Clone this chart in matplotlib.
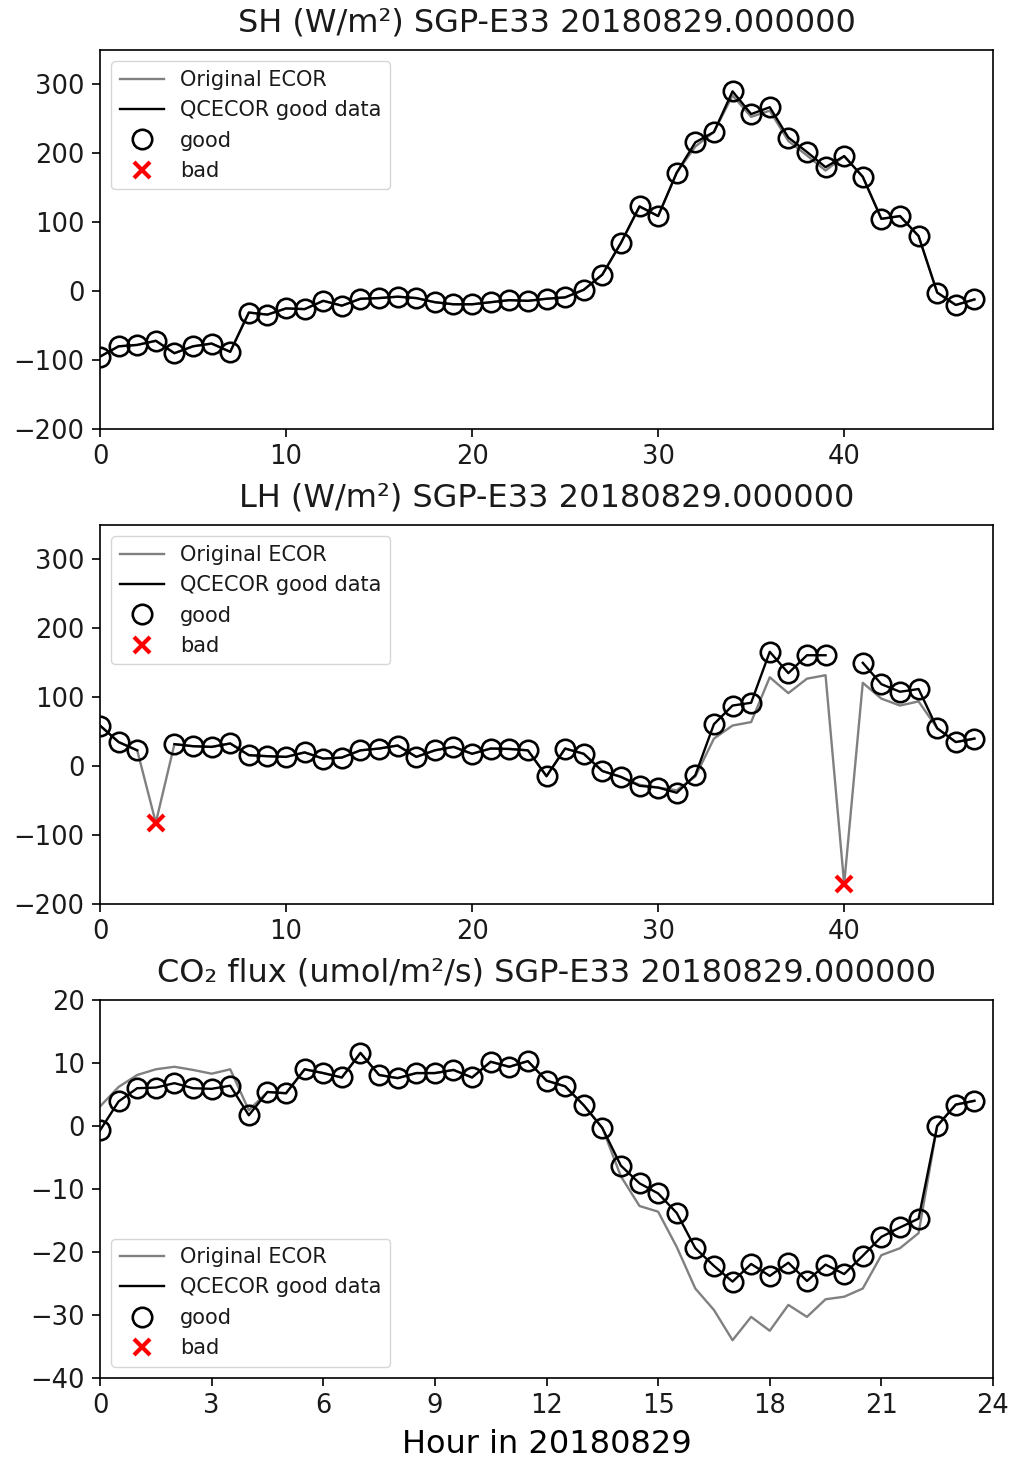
import numpy as np
import matplotlib
matplotlib.use("Agg")
import matplotlib.pyplot as plt

nan = np.nan

# ---------------- data ----------------
sh_qc = [-95, -80, -78, -72, -90, -80, -76, -88, -31, -34, -25, -26, -14, -21, -11, -10,
         -8, -10, -16, -19, -19, -16, -13, -14, -11, -9, 2, 24, 70, 123, 109, 172,
         216, 231, 290, 257, 267, 223, 202, 180, 196, 166, 105, 109, 80, -2, -20, -12]
sh_orig = [-95, -80, -78, -72, -90, -80, -76, -88, -31, -34, -25, -26, -14, -21, -11, -10,
           -8, -10, -16, -19, -19, -16, -13, -14, -11, -9, 2, 24, 70, 123, 109, 172,
           210, 231, 284, 253, 262, 218, 197, 175, 196, 166, 105, 109, 80, -2, -20, -12]
sh_bad_idx = []

lh_qc = [59, 35, 23, nan, 32, 29, 28, 33, 16, 14.5, 13.5, 20, 11, 12.5, 23, 25.6,
         30, 13.5, 23, 28, 18, 25.6, 25, 23, -14.5, 25.6, 18, -7, -15.5, -28.5, -31, -38.6,
         -13, 61, 88, 92, 166, 135, 161, 161, nan, 150, 119, 108, 112, 55, 35, 40]
lh_orig = [59, 35, 23, -82, 32, 29, 28, 33, 16, 14.5, 13.5, 20, 11, 12.5, 23, 25.6,
           30, 13.5, 23, 28, 18, 25.6, 25, 23, -14.5, 25.6, 18, -7, -15.5, -27, -31, -35,
           -15, 40, 59, 64, 129, 106, 127, 132, -171, 121, 98, 88, 94, 55, 35, 40]
lh_bad_idx = [3, 40]

co2_qc = [-0.7, 3.9, 6.0, 6.1, 6.8, 6.0, 5.9, 6.4, 1.7, 5.4, 5.2, 9.0, 8.4, 7.7, 11.6, 8.1,
          7.6, 8.4, 8.4, 8.9, 7.7, 10.2, 9.4, 10.3, 7.2, 6.3, 3.3, -0.3, -6.3, -9.1, -10.7, -13.8,
          -19.4, -22.2, -24.7, -21.9, -23.8, -21.7, -24.6, -22.0, -23.5, -20.6, -17.6, -16.1, -14.7, 0.0, 3.4, 4.0]
co2_orig = [3.1, 6.2, 8.1, 9.0, 9.4, 8.9, 8.3, 9.0, 2.5, 5.4, 5.2, 9.0, 8.4, 7.7, 11.6, 8.1,
            7.6, 8.4, 8.4, 8.9, 7.7, 10.2, 9.4, 10.3, 7.2, 6.3, 3.3, -0.3, -8.0, -12.7, -13.6, -19.2,
            -25.8, -29.2, -34.0, -30.3, -32.5, -28.4, -30.3, -27.5, -27.1, -25.8, -20.5, -19.4, -17.0, 0.0, 3.4, 4.0]
co2_bad_idx = []

titles = ["SH (W/m\u00b2) SGP-E33 20180829.000000",
          "LH (W/m\u00b2) SGP-E33 20180829.000000",
          "CO\u2082 flux (umol/m\u00b2/s) SGP-E33 20180829.000000"]
xlabel = "Hour in 20180829"
idx_ticks = [0, 10, 20, 30, 40]
hour_ticks = [0, 3, 6, 9, 12, 15, 18, 21, 24]
flux_yticks = [-200, -100, 0, 100, 200, 300]
co2_yticks = [-40, -30, -20, -10, 0, 10, 20]

# ---------------- figure ----------------
plt.rcParams['font.family'] = ['DejaVu Sans']
plt.rcParams['text.color'] = '#1a1a1a'
plt.rcParams['xtick.labelcolor'] = '#1a1a1a'
plt.rcParams['ytick.labelcolor'] = '#1a1a1a'
fig = plt.figure(figsize=(10.13, 14.62), dpi=100)

left, width = 100 / 1013, 893 / 1013
boxes = [(50, 429), (525, 904), (1000, 1378)]
axes = []
for top, bot in boxes:
    ax = fig.add_axes([left, 1 - bot / 1462, width, (bot - top) / 1462])
    axes.append(ax)

n = 48
idx = np.arange(n)
hours = idx * 0.5

panels = [
    (axes[0], idx, sh_orig, sh_qc, sh_bad_idx, (-200, 350), flux_yticks, (0, 48), idx_ticks, 'upper left'),
    (axes[1], idx, lh_orig, lh_qc, lh_bad_idx, (-200, 350), flux_yticks, (0, 48), idx_ticks, 'upper left'),
    (axes[2], hours, co2_orig, co2_qc, co2_bad_idx, (-40, 20), co2_yticks, (0, 24), hour_ticks, 'lower left'),
]

for i, (ax, x, orig, qc, bad, ylim, yt, xlim, xt, loc) in enumerate(panels):
    orig = np.array(orig, dtype=float)
    qc = np.array(qc, dtype=float)
    ax.plot(x, orig, color='gray', lw=1.7, label='Original ECOR', zorder=2)
    ax.plot(x, qc, color='black', lw=1.7, label='QCECOR good data', zorder=3)
    ax.plot(x, qc, linestyle='none', marker='o', ms=14, mfc='none', mec='black',
            mew=1.9, label='good', zorder=4)
    bx = x[bad] if len(bad) else []
    by = orig[bad] if len(bad) else []
    ax.plot(bx, by, linestyle='none', marker='x', ms=12, mec='red', mew=3,
            label='bad', zorder=5)
    ax.set_xlim(*xlim)
    ax.set_ylim(*ylim)
    ax.set_xticks(xt)
    ax.set_yticks(yt)
    ax.tick_params(labelsize=18.5, length=6, width=1.2, pad=5)
    for s in ax.spines.values():
        s.set_linewidth(1.2)
    ax.set_title(titles[i], fontsize=23, pad=13)
    ax.legend(loc=loc, fontsize=15, borderaxespad=0.55, handlelength=2.1)

axes[2].set_xlabel(xlabel, fontsize=23, labelpad=7)

fig.savefig('out.png', dpi=100)
